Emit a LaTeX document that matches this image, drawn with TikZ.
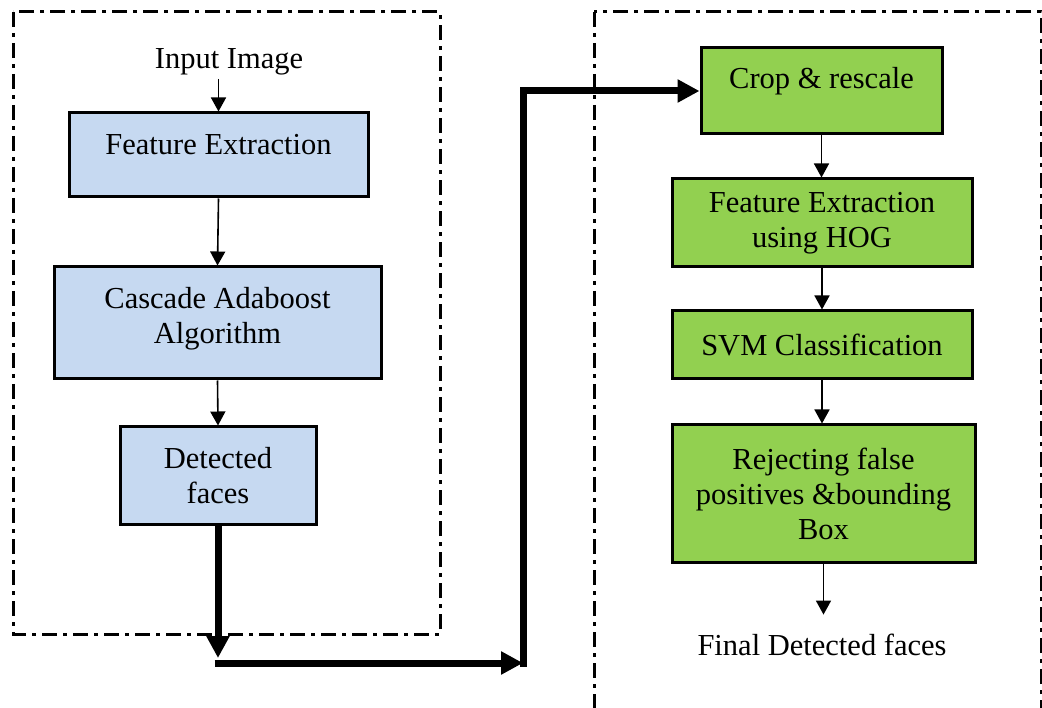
\documentclass[tikz,border=0pt]{standalone}
\usepackage{fontspec}
\setmainfont{Liberation Serif}
\usetikzlibrary{arrows.meta}
\definecolor{boxblue}{RGB}{198,217,241}
\definecolor{boxgreen}{RGB}{146,208,80}
\begin{document}
\begin{tikzpicture}[x=1pt,y=-1pt,
        font=\fontsize{30.5}{35}\selectfont,
        blubox/.style={draw, line width=3pt, fill=boxblue, align=center, inner sep=0pt},
        grnbox/.style={draw, line width=3pt, fill=boxgreen, align=center, inner sep=0pt},
        smallarrow/.style={-{Triangle[length=14pt,width=15pt]}, line width=1.6pt},
        bigarrow/.style={-{Triangle[length=22pt,width=22pt]}, line width=7pt, line join=miter},
        frame/.style={line width=3pt, dash pattern=on 15pt off 6pt on 4pt off 6pt}]
        \clip (0,0) rectangle (1042,708);
        % dash-dot frames
        \draw [frame] (13,12) rectangle (440,634);
        \draw [frame] (594,12) rectangle (1041,760);
        % left column
        \node [] (input) at (229,62) {Input Image};
        \node [blubox, minimum width=299, minimum height=84] (fe) at (218.5,155) {\raisebox{10pt}[\height][\depth]{Feature Extraction}};
        \node [blubox, minimum width=327, minimum height=112] (casc) at (217.5,323) {\raisebox{4pt}[\height][\depth]{\begin{tabular}{@{}c@{}}Cascade Adaboost\\Algorithm\end{tabular}}};
        \node [blubox, minimum width=196, minimum height=97] (det) at (218,475.5) {Detected\\faces};
        \draw [smallarrow] (input.south -| fe.north) -- (fe.north);
        \draw [smallarrow] (fe.south) -- (casc.north);
        \draw [smallarrow] (casc.south) -- (det.north);
        % right column
        \node [grnbox, minimum width=241, minimum height=86] (crop) at (821.5,91) {\raisebox{10pt}[\height][\depth]{Crop \& rescale}};
        \node [grnbox, minimum width=300, minimum height=88] (hog) at (822,223) {Feature Extraction\\using HOG};
        \node [grnbox, minimum width=300, minimum height=68] (svm) at (822,345) {SVM Classification};
        \node [grnbox, minimum width=303, minimum height=137] (rej) at (823.5,493.5) {Rejecting false\\positives \&bounding\\Box};
        \node [] (final) at (822,645) {Final Detected faces};
        \draw [smallarrow] (crop.south) -- (hog.north -| crop.south);
        \draw [smallarrow] (hog.south -| svm.north) -- (svm.north);
        \draw [smallarrow] (svm.south) -- (rej.north -| svm.south);
        \draw [smallarrow, shorten >=16pt] (rej.south) -- (rej.south |- final.north);
        % thick link between the two parts
        \coordinate (bend1) at (218,663);
        \coordinate (bend2) at (523,663);
        \coordinate (bend3) at (523,91);
        \draw [bigarrow] (det.south) -- ([yshift=5pt]bend1);
        \draw [bigarrow] ([xshift=-3.5pt]bend1) -- (bend2);
        \draw [bigarrow] ([yshift=-3.5pt]bend2) -- (bend3) -- (crop.west);
    \end{tikzpicture}
\end{document}
